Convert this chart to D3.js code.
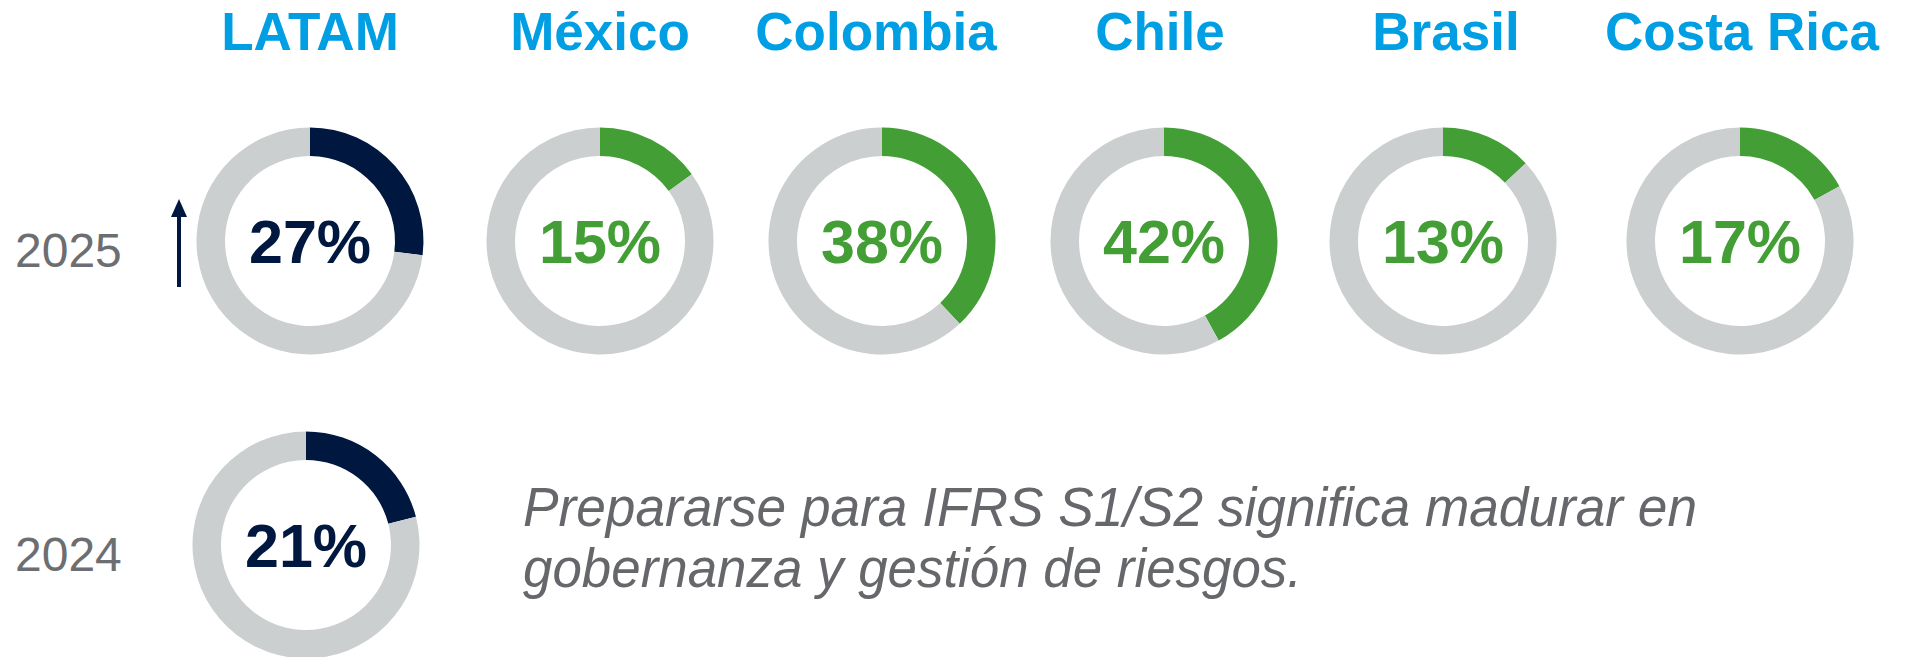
<!DOCTYPE html>
<html>
<head>
<meta charset="utf-8">
<title>IFRS S1/S2 donuts</title>
<script src="https://d3js.org/d3.v7.min.js"></script>
<style>
body { margin: 0; background: #fff; }
svg text { font-family: "Liberation Sans", Arial, sans-serif; }
</style>
</head>
<body>
<script>

// data
var regions = ["LATAM", "México", "Colombia", "Chile", "Brasil", "Costa Rica"];
var values2025 = [27, 15, 38, 42, 13, 17];
var latam2024 = 21;
var years = ["2025", "2024"];
var note = ["Prepararse para IFRS S1/S2 significa madurar en", "gobernanza y gestión de riesgos."];

var W = 1908, H = 657;
var navy = "#00173F", green = "#429E35", grey = "#CBCFD0";
var titleBlue = "#009FE3", textGrey = "#6D6E71";

var svg = d3.select("body").append("svg")
	.attr("width", W)
	.attr("height", H);

// slide layout: column centres are not evenly spaced
var x = d3.scaleOrdinal().domain(regions).range([310, 600, 882, 1164, 1443, 1740]);
var xTitle = d3.scaleOrdinal().domain(regions).range([310, 600, 876, 1160, 1446, 1742]);
var rowY = d3.scalePoint().domain(years).range([241, 545]);

var outerR = 113.5, innerR = 85;
var arc = d3.arc().innerRadius(innerR).outerRadius(outerR);
var pie = d3.pie().sort(null).value(function(d){ return d; });

function donut(cx, cy, v, col){
	var g = svg.append("g").attr("transform", "translate(" + cx + "," + cy + ")");
	var slices = pie([v, 100 - v]);
	g.selectAll("path")
		.data(slices)
		.enter()
		.append("path")
		.attr("d", arc)
		.attr("fill", function(d, i){ return i == 0 ? col : grey; });
	g.append("text")
		.attr("y", 22)
		.attr("text-anchor", "middle")
		.attr("font-size", 61)
		.attr("font-weight", "bold")
		.attr("fill", col)
		.text(v + "%");
}

// titles
svg.selectAll("text.title")
	.data(regions)
	.enter()
	.append("text")
	.attr("class", "title")
	.attr("x", function(d){ return xTitle(d); })
	.attr("y", 50)
	.attr("text-anchor", "middle")
	.attr("font-size", 53)
	.attr("font-weight", "bold")
	.attr("fill", titleBlue)
	.text(function(d){ return d; });

// 2025 row
regions.forEach(function(r, i){
	donut(x(r), rowY("2025"), values2025[i], i == 0 ? navy : green);
});

// 2024 row (LATAM only)
donut(x("LATAM") - 4, rowY("2024"), latam2024, navy);

// year labels
svg.selectAll("text.year")
	.data(years)
	.enter()
	.append("text")
	.attr("class", "year")
	.attr("x", 15)
	.attr("y", function(d){ return rowY(d) + 26; })
	.attr("font-size", 48)
	.attr("fill", textGrey)
	.text(function(d){ return d; });

// arrow up
var ax = 179;
svg.append("line")
	.attr("x1", ax).attr("x2", ax)
	.attr("y1", 287).attr("y2", 212)
	.attr("stroke", navy)
	.attr("stroke-width", 4);
svg.append("path")
	.attr("d", "M" + (ax - 8) + ",217 L" + ax + ",199 L" + (ax + 8) + ",217 Z")
	.attr("fill", navy);

// note (text in the slide is slightly condensed)
var noteWidths = [1174, 779];
svg.selectAll("text.note")
	.data(note)
	.enter()
	.append("text")
	.attr("class", "note")
	.attr("x", 523)
	.attr("y", function(d, i){ return 526 + i * 61; })
	.attr("font-size", 55)
	.attr("font-style", "italic")
	.attr("fill", "#65676B")
	.attr("textLength", function(d, i){ return noteWidths[i]; })
	.attr("lengthAdjust", "spacingAndGlyphs")
	.text(function(d){ return d; });

</script>
</body>
</html>
